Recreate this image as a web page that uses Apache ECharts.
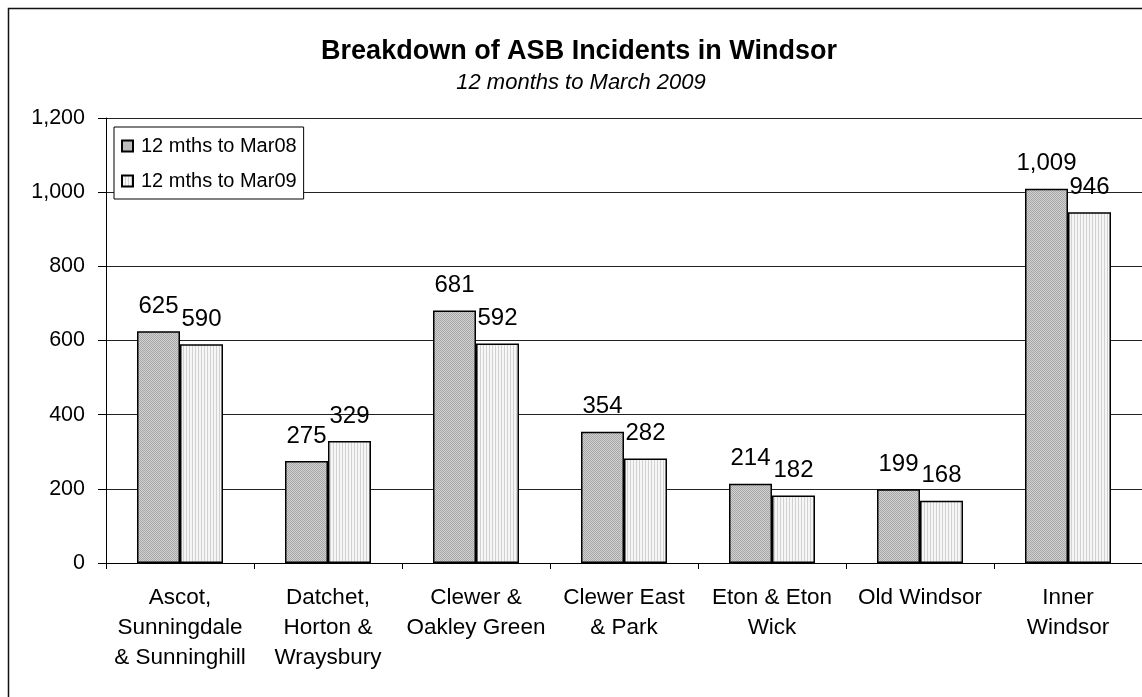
<!DOCTYPE html>
<html>
<head>
<meta charset="utf-8">
<script src="https://cdn.jsdelivr.net/npm/echarts@6/dist/echarts.min.js"></script>
<style>html,body{margin:0;padding:0;background:#fff}#c{width:1142px;height:697px}</style>
</head>
<body>
<div id="c"></div>
<script>
const categories = [
  "Ascot,\nSunningdale\n& Sunninghill",
  "Datchet,\nHorton &\nWraysbury",
  "Clewer &\nOakley Green",
  "Clewer East\n& Park",
  "Eton & Eton\nWick",
  "Old Windsor",
  "Inner\nWindsor"
];
const seriesNames = ["12 mths to Mar08", "12 mths to Mar09"];
const mar08 = [625, 275, 681, 354, 214, 199, 1009];
const mar09 = [590, 329, 592, 282, 182, 168, 946];
const yTicks = { min: 0, max: 1200, interval: 200 };

function makePattern(kind) {
  const c = document.createElement('canvas');
  if (kind === 1) {
    c.width = 4; c.height = 4;
    const g = c.getContext('2d');
    g.fillStyle = '#d2d2d2'; g.fillRect(0, 0, 4, 4);
    g.fillStyle = '#a6a6a6';
    for (let i = 0; i < 4; i++) { g.fillRect(i, i, 1, 1); g.fillRect((i + 2) % 4, i, 1, 1); }
  } else {
    c.width = 3; c.height = 2;
    const g = c.getContext('2d');
    g.fillStyle = '#f6f6f6'; g.fillRect(0, 0, 3, 2);
    g.fillStyle = '#d2d2d2'; g.fillRect(0, 0, 1, 2);
  }
  return { image: c, repeat: 'repeat' };
}

const fmt = v => Number(v).toLocaleString('en-US');
const FONT = '"Liberation Sans", Arial, sans-serif';

const chart = echarts.init(document.getElementById('c'), null, { renderer: 'canvas' });
const labelCfg = {
  show: true, position: 'top', distance: 13, color: '#000',
  fontFamily: FONT, fontSize: 24,
  formatter: p => fmt(p.value)
};
chart.setOption({
  animation: false,
  backgroundColor: '#fff',
  textStyle: { fontFamily: FONT },
  graphic: [{
    type: 'rect', left: 6, top: 6, z: -1,
    shape: { x: 0, y: 0, width: 1200, height: 800 },
    style: { fill: 'none', stroke: '#111', lineWidth: 1.5 }
  }],
  title: [
    { text: 'Breakdown of ASB Incidents in Windsor', left: 574, top: 33, textAlign: 'center',
      textStyle: { fontFamily: FONT, fontSize: 27, fontWeight: 'bold', color: '#000' } },
    { text: '12 months to March 2009', left: 576, top: 67, textAlign: 'center',
      textStyle: { fontFamily: FONT, fontSize: 22, fontStyle: 'italic', fontWeight: 'normal', color: '#000' } }
  ],
  legend: {
    orient: 'vertical', left: 114, top: 127,
    padding: [9, 7, 8, 7], itemGap: 15,
    itemWidth: 11, itemHeight: 11,
    backgroundColor: '#fff', borderColor: '#000', borderWidth: 1,
    textStyle: { fontFamily: FONT, fontSize: 20, lineHeight: 20, color: '#000', padding: [0, 0, 0, 3] },
    data: seriesNames.map(n => ({ name: n, icon: 'rect' }))
  },
  grid: { left: 106, top: 118, bottom: 134, right: -10, containLabel: false },
  xAxis: {
    type: 'category', data: categories,
    axisLine: { lineStyle: { color: '#000', width: 1 } },
    axisTick: { show: true, length: 6, lineStyle: { color: '#000' } },
    axisLabel: { interval: 0, margin: 20, color: '#000', fontFamily: FONT, fontSize: 22.5, lineHeight: 30, align: 'center' }
  },
  yAxis: {
    type: 'value', min: yTicks.min, max: yTicks.max, interval: yTicks.interval,
    axisLine: { show: true, lineStyle: { color: '#000', width: 1 } },
    axisTick: { show: true, length: 8, lineStyle: { color: '#000' } },
    splitLine: { lineStyle: { color: '#222', width: 1 } },
    axisLabel: { formatter: v => fmt(v), margin: 21, color: '#000', fontFamily: FONT, fontSize: 21.5 }
  },
  series: [
    { name: seriesNames[0], type: 'bar', data: mar08, barWidth: 43, barGap: '0%',
      itemStyle: { color: makePattern(1), borderColor: '#000', borderWidth: 1.5 },
      label: labelCfg },
    { name: seriesNames[1], type: 'bar', data: mar09, barWidth: 43, barGap: '0%',
      itemStyle: { color: makePattern(2), borderColor: '#000', borderWidth: 1.5 },
      label: labelCfg }
  ]
});
</script>
</body>
</html>
